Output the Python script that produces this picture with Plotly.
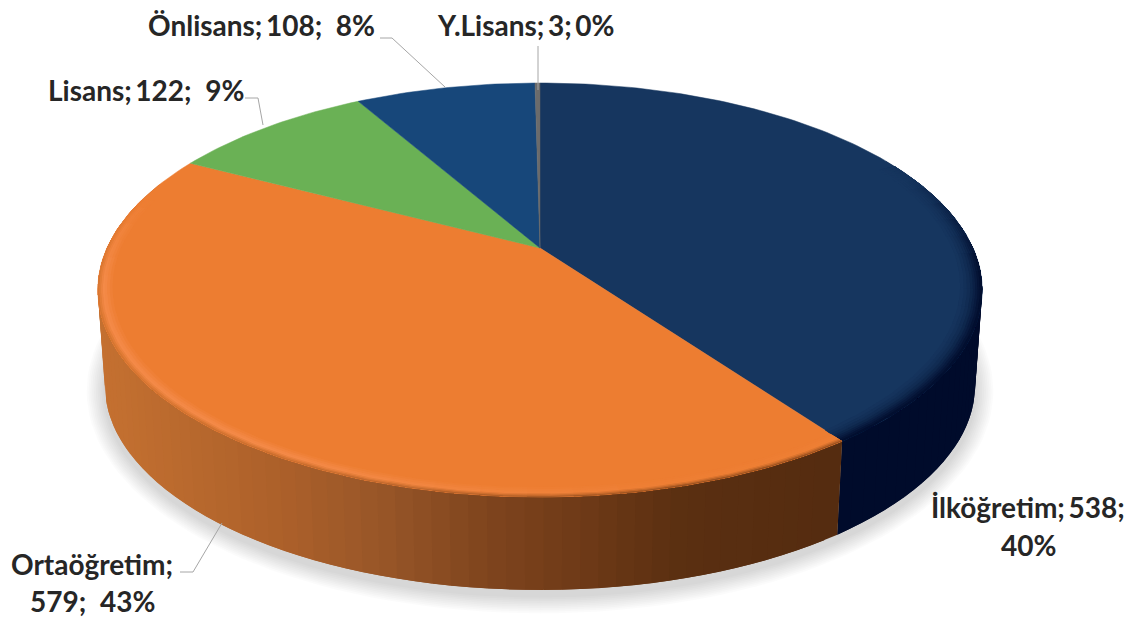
import numpy as np
import plotly.graph_objects as go

categories = ["İlköğretim", "Ortaöğretim", "Lisans", "Önlisans", "Y.Lisans"]
values = [538, 579, 122, 108, 3]
percent_labels = ["40%", "43%", "9%", "8%", "0%"]
top_colors = ["#16365F", "#ED7D31", "#6AB155", "#17477A", "#6B6B6B"]

# perspective disc geometry, in picture pixels
CX, CY, A, B, K = 540.0, 248.0, 433.0, 198.5, 0.203
TOP_MID_Y, BOT_MID_Y, BOT_SX, BOT_SY = 290.0, 385.0, 0.984, 0.99
WARP = np.radians(1.5)


def top_xy(r, th):
    th = th + WARP * np.maximum(np.sin(th), 0)
    u, v = r * np.sin(th), r * np.cos(th)
    w = 1 + K * v
    return CX + A * u / w, CY - B * v / w


def bot_xy(r, th):
    x, y = top_xy(r, th)
    return CX + BOT_SX * (x - CX), BOT_MID_Y + BOT_SY * (y - TOP_MID_Y)


def hex_rgb(h):
    return np.array([int(h[i:i + 2], 16) for i in (1, 3, 5)], float)


def rgb(c):
    return "rgb(%d,%d,%d)" % tuple(np.clip(np.round(c), 0, 255))


def mix(a, b, t):
    return a + (b - a) * t


ORANGE_X = [105, 130, 300, 400, 500, 600, 700, 838]
ORANGE_C = np.array([[196, 112, 48], [194, 111, 48], [172, 96, 42], [152, 86, 40],
                     [128, 69, 30], [110, 58, 23], [90, 47, 17], [85, 44, 16]], float)
BLUE_WALL = np.array([0, 11, 43], float)


def wall_color(i, x):
    if i == 1:
        return np.array([np.interp(x, ORANGE_X, ORANGE_C[:, c]) for c in range(3)])
    return BLUE_WALL


fracs = np.array(values, float) / sum(values)
edges = np.concatenate([[0], np.cumsum(fracs)]) * 2 * np.pi

fig = go.Figure()


def poly(xs, ys, color, lw=0.0):
    fig.add_trace(go.Scatter(x=list(xs), y=list(ys), mode="lines", fill="toself",
                             fillcolor=color, line=dict(color=color, width=lw),
                             hoverinfo="skip", showlegend=False))


# soft shadow under the disc
ring = np.linspace(0, 2 * np.pi, 181)
for grow in range(1, 11):
    bx, by = bot_xy(1.0, ring)
    sx = CX + (bx - CX) * (1 + grow * 0.0042)
    sy = BOT_MID_Y + 6 + (by - BOT_MID_Y) * (1 + grow * 0.0085)
    poly(sx, sy, "rgba(0,0,0,0.016)")

# side wall: each strip runs on under the next one, so no seams show
for i in (0, 1):
    a0, a1 = edges[i], edges[i + 1]
    if i == 0:
        a0 = np.radians(60)
    else:
        a1 = np.radians(290)
    n = max(4, int(np.degrees(a1 - a0) / 2.0))
    th = np.linspace(a0, a1, n + 1)
    step = th[1] - th[0]
    for j in range(n - 1, -1, -1):
        lo = th[j]
        hi = min(th[j] + 2 * step, a1)
        t = np.linspace(lo, hi, 4)
        tx, ty = top_xy(1.0, t)
        bx, by = bot_xy(1.0, t)
        mx = bot_xy(1.0, th[j] + step / 2)[0]
        poly(np.r_[tx, bx[::-1]], np.r_[ty, by[::-1]], rgb(wall_color(i, mx)))

# top faces, one per category
for i, name in enumerate(categories):
    t = np.linspace(edges[i], edges[i + 1], max(3, int(np.degrees(edges[i + 1] - edges[i]))))
    x, y = top_xy(1.0, t)
    color = top_colors[i]
    fig.add_trace(go.Scatter(x=np.r_[CX, x, CX], y=np.r_[CY, y, CY], mode="lines", fill="toself",
                             fillcolor=color, line=dict(color=color, width=0.5),
                             name=name, text=f"{name}; {values[i]}; {percent_labels[i]}",
                             hoverinfo="text", showlegend=False))

# bevel along the visible rim: painted from the inside out, each ring filling to the edge
HIGHLIGHT = hex_rgb("#F48A48")
RADII_ORANGE = [0.968, 0.974, 0.98, 0.985, 0.989, 0.993, 0.997]
HIGH_AMT = [0.25, 0.55, 0.85, 1.0, 0.75, 0.4, 0.1]
WALL_AMT = [0.0, 0.0, 0.0, 0.0, 0.12, 0.3, 0.55]
RADII_BLUE = [0.952, 0.96, 0.967, 0.974, 0.98, 0.985, 0.99, 0.995]
BLUE_AMT = [0.06, 0.14, 0.24, 0.36, 0.5, 0.64, 0.78, 0.9]

for i in (0, 1):
    a0, a1 = edges[i], edges[i + 1]
    if i == 0:
        a0 = np.radians(62)
    else:
        a1 = np.radians(285)
    n = max(4, int(np.degrees(a1 - a0) / 5))
    th = np.linspace(a0, a1, n + 1)
    step = th[1] - th[0]
    base = hex_rgb(top_colors[i])
    radii = RADII_BLUE if i == 0 else RADII_ORANGE
    for k, r0 in enumerate(radii):
        for j in range(n - 1, -1, -1):
            t = np.linspace(th[j], min(th[j] + 1.5 * step, a1), 4)
            mid = np.degrees(th[j] + step / 2)
            ox, oy = top_xy(1.0, t)
            ix, iy = top_xy(r0, t)
            wall = wall_color(i, ox.mean())
            if i == 0:
                fade = np.clip((mid - 62) / 30, 0, 1)
                c = mix(base, wall, BLUE_AMT[k] * fade)
            else:
                fade = np.clip((285 - mid) / 25, 0, 1)
                # the light streak sits on the left and dies out towards the front
                glow = 0.15 + 0.85 * np.clip((mid - 165) / 40, 0, 1)
                c = mix(base, HIGHLIGHT, HIGH_AMT[k] * glow * fade)
                c = mix(c, wall, WALL_AMT[k] * fade)
            poly(np.r_[ox, ix[::-1]], np.r_[oy, iy[::-1]], rgb(c))

# leader lines (picture coordinates of each callout)
leader_x = [[180, 193, 222], [245, 258, 263], [380, 392, 445], [538, 538]]
leader_y = [[572, 572, 523], [98, 98, 125], [38, 38, 87], [46, 90]]
for lx, ly in zip(leader_x, leader_y):
    fig.add_trace(go.Scatter(x=lx, y=ly, mode="lines", line=dict(color="#A6A6A6", width=1),
                             hoverinfo="skip", showlegend=False))

# data labels
NB = "\u00a0"
TH = "\u2009"
label_lines = [
    (f"{categories[0]};{TH}{values[0]};", 1028, 507),
    (percent_labels[0], 1028, 545),
    (f"{categories[1]};", 92, 564),
    (f"{values[1]};{NB}{NB}{percent_labels[1]}", 92, 601),
    (f"{categories[2]};{TH}{values[2]};{NB}{NB}{percent_labels[2]}", 146, 90),
    (f"{categories[3]};{TH}{values[3]};{NB}{NB}{percent_labels[3]}", 261, 25),
    (f"{categories[4]};{TH}{values[4]};{TH}{percent_labels[4]}", 525, 25),
]
for text, x, y in label_lines:
    fig.add_annotation(x=x, y=y, text=text, showarrow=False, xanchor="center", yanchor="middle",
                       font=dict(family="Lato", size=28, color="#262626", weight=700))

fig.update_layout(
    width=1148, height=619, margin=dict(l=0, r=0, t=0, b=0),
    paper_bgcolor="white", plot_bgcolor="white", showlegend=False,
    xaxis=dict(range=[0, 1148], visible=False, fixedrange=True),
    yaxis=dict(range=[619, 0], visible=False, fixedrange=True),
)
fig.write_html("out.html", config={"displayModeBar": False},
               post_script="document.body.style.margin='0';document.body.style.overflow='hidden';")
